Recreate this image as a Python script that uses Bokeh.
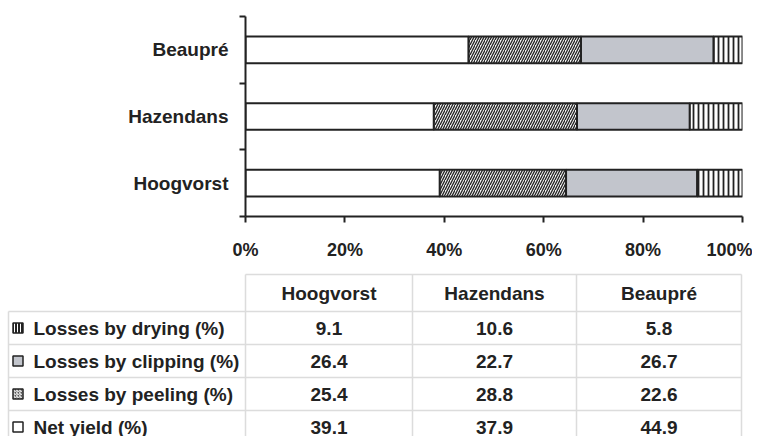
from bokeh.plotting import figure
from bokeh.models import ColumnDataSource, Range1d, FixedTicker
from bokeh.core.properties import value
from bokeh.embed import file_html
from bokeh.resources import INLINE

# ---------------- data ----------------
sites = ["Hoogvorst", "Hazendans", "Beaupré"]
net_yield = [39.1, 37.9, 44.9]
loss_peeling = [25.4, 28.8, 22.6]
loss_clipping = [26.4, 22.7, 26.7]
loss_drying = [9.1, 10.6, 5.8]
series_labels = ["Losses by drying (%)", "Losses by clipping (%)",
                 "Losses by peeling (%)", "Net yield (%)"]
x_ticks = [0, 20, 40, 60, 80, 100]
x_tick_labels = ["0%", "20%", "40%", "60%", "80%", "100%"]

# ---------------- styles ----------------
FONT = "Liberation Sans"
INK = "#222222"
CLIP_FILL = "#c2c5cc"

# ---------------- chart ----------------
ypos = [i + 0.5 for i in range(len(sites))]
src = ColumnDataSource(dict(y=ypos, net=net_yield, peel=loss_peeling,
                            clip=loss_clipping, dry=loss_drying))

p = figure(width=752, height=266, x_range=Range1d(0, 100), y_range=Range1d(0, len(sites)),
           output_backend="svg", toolbar_location=None,
           min_border_left=245, min_border_right=10, min_border_top=16, min_border_bottom=50)
p.outline_line_color = None
p.grid.visible = False

p.hbar_stack(["net", "peel", "clip", "dry"], y="y", height=0.4, source=src,
             fill_color=["white", "#f2f2f2", CLIP_FILL, "white"],
             hatch_pattern=[" ", "right_diagonal_line", " ", "vertical_line"],
             hatch_color=INK, hatch_scale=[5, 5, 5, 5], hatch_weight=[1, 1.3, 1, 1.8],
             line_color=INK, line_width=2)

# y axis: labels at category centres, ticks at category boundaries
p.yaxis.ticker = FixedTicker(ticks=ypos, minor_ticks=list(range(len(sites) + 1)))
p.yaxis.major_label_overrides = {y: s for y, s in zip(ypos, sites)}
p.yaxis.major_tick_out = 0
p.yaxis.major_tick_in = 0
p.yaxis.minor_tick_out = 6
p.yaxis.minor_tick_in = 0
p.yaxis.minor_tick_line_width = 2
p.yaxis.minor_tick_line_color = INK
p.yaxis.major_label_standoff = 11
p.yaxis.major_label_text_font_size = "19px"

p.xaxis.ticker = FixedTicker(ticks=x_ticks)
p.xaxis.major_label_overrides = {t: l for t, l in zip(x_ticks, x_tick_labels)}
p.xaxis.major_tick_out = 6
p.xaxis.major_tick_in = 0
p.xaxis.minor_tick_out = 0
p.xaxis.minor_tick_in = 0
p.xaxis.major_tick_line_width = 2
p.xaxis.major_tick_line_color = INK
p.xaxis.major_label_standoff = 17
p.xaxis.major_label_text_font_size = "18px"

for ax in (p.xaxis, p.yaxis):
    ax.axis_line_width = 2
    ax.axis_line_color = INK
    ax.major_label_text_font = FONT
    ax.major_label_text_font_style = "bold"
    ax.major_label_text_color = INK

# ---------------- table ----------------
TW, TH = 752, 170
t = figure(width=TW, height=TH, x_range=Range1d(0, TW), y_range=Range1d(TH, 0),
           output_backend="svg", toolbar_location=None,
           x_axis_type=None, y_axis_type=None, min_border=0)
t.outline_line_color = None
t.grid.visible = False

col_edges = [8, 245, 412, 576, 741]
top = 8
header_h = 37
row_h = 33
n_rows = len(series_labels)
row_edges = [top + header_h + i * row_h for i in range(n_rows + 1)]
bottom = TH + 20
GRID = "#dcdcdc"

# horizontal lines
hx0 = [col_edges[1]] + [col_edges[0]] * n_rows
hx1 = [col_edges[-1]] * (n_rows + 1)
hy = [top] + row_edges[:n_rows]
t.segment(x0=hx0, y0=hy, x1=hx1, y1=hy, line_color=GRID, line_width=1.5)
# vertical lines
vx = col_edges
vy0 = [row_edges[0]] + [top] * (len(col_edges) - 1)
t.segment(x0=vx, y0=vy0, x1=vx, y1=[bottom] * len(vx), line_color=GRID, line_width=1.5)

col_centres = [(col_edges[i] + col_edges[i + 1]) / 2 for i in range(1, len(col_edges) - 1)]
row_centres = [(row_edges[i] + row_edges[i + 1]) / 2 for i in range(n_rows)]
header_centre = top + header_h / 2

# header
t.text(x=col_centres, y=[header_centre] * len(sites), text=sites,
       text_font=value(FONT), text_font_style="bold", text_font_size="19px",
       text_color=INK, text_align="center", text_baseline="middle")

# row labels
t.text(x=[33] * n_rows, y=row_centres, text=series_labels,
       text_font=value(FONT), text_font_style="bold", text_font_size="19px",
       text_color=INK, text_align="left", text_baseline="middle")

# values
rows = [loss_drying, loss_clipping, loss_peeling, net_yield]
vx_, vy_, vt_ = [], [], []
for r, vals in enumerate(rows):
    for c, v in enumerate(vals):
        vx_.append(col_centres[c]); vy_.append(row_centres[r]); vt_.append(f"{v:.1f}")
t.text(x=vx_, y=vy_, text=vt_, text_font=value(FONT), text_font_style="bold",
       text_font_size="19px", text_color=INK, text_align="center", text_baseline="middle")

# legend icons
icon_fill = [INK, CLIP_FILL, "#555555", "white"]
icon_hatch = ["vertical_line", " ", "right_diagonal_line", " "]
t.rect(x=[17.5] * n_rows, y=row_centres, width=10, height=10,
       fill_color=icon_fill, hatch_pattern=icon_hatch, hatch_color="white",
       hatch_scale=3, hatch_weight=1, line_color=INK, line_width=1.5)

# two independent roots, stacked, so their frames are not aligned to each other
open("out.html", "w").write(file_html([p, t], INLINE))
